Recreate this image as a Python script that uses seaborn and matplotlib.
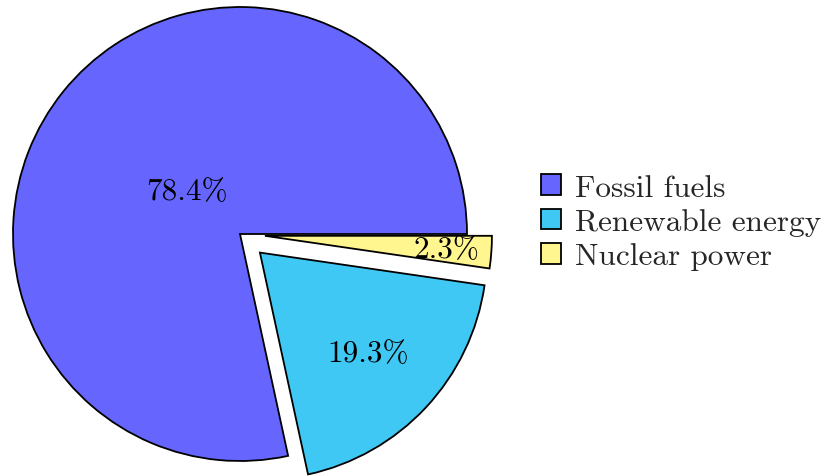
import numpy as np
import matplotlib
matplotlib.use("Agg")
import matplotlib.pyplot as plt
import seaborn as sns

categories = ["Fossil fuels", "Renewable energy", "Nuclear power"]
shares = [78.4, 19.3, 2.3]
colors = ["#6666ff", "#40c8f4", "#fff68f"]
explode = [0.0, 0.12, 0.11]
label_dist = [0.30, 0.65, 0.80]

sns.set_style("white")
plt.rcParams["font.family"] = ["cmr10", "DejaVu Serif"]
plt.rcParams["mathtext.fontset"] = "cm"
plt.rcParams["axes.formatter.use_mathtext"] = True

W, H = 822, 477
fig = plt.figure(figsize=(W / 100, H / 100), dpi=100)
ax = fig.add_axes([0, 0, 1, 1])

R = 227.0
cx, cy = 240.0, 235.0
wedges, texts, autotexts = ax.pie(
    shares, colors=colors, explode=explode, startangle=0, counterclock=True,
    autopct="%1.1f%%", wedgeprops=dict(edgecolor="black", linewidth=1.3),
    textprops=dict(fontsize=22.5, color="black"), radius=1.0,
)
for w, t, d in zip(wedges, autotexts, label_dist):
    mid = np.deg2rad((w.theta1 + w.theta2) / 2)
    x0, y0 = w.center
    t.set_position((x0 + d * np.cos(mid), y0 + d * np.sin(mid)))

ax.set_xlim(-cx / R, (W - cx) / R)
ax.set_ylim(-(H - cy) / R, cy / R)
ax.axis("off")

leg = fig.legend(wedges, categories, loc="center left",
                 bbox_to_anchor=(541 / W, 1 - 223 / H), frameon=False,
                 fontsize=22.5, handlelength=0.65, handleheight=0.65,
                 handletextpad=0.45, labelspacing=0.2, borderpad=0,
                 borderaxespad=0)

fig.savefig("out.png", dpi=100)
